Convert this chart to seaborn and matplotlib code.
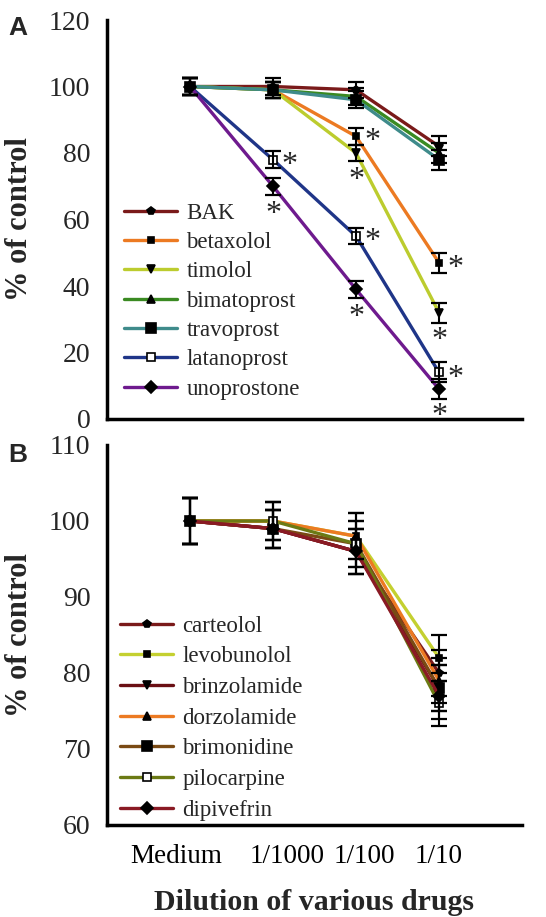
import matplotlib
matplotlib.use('Agg')
import matplotlib.pyplot as plt
import matplotlib.transforms as mtransforms
import seaborn as sns
import numpy as np
import pandas as pd

# dilution steps (x axis)
dilutions = ['Medium', '1/1000', '1/100', '1/10']

# Panel A: % of control
drugs_a = ['BAK', 'betaxolol', 'timolol', 'bimatoprost', 'travoprost', 'latanoprost', 'unoprostone']
bak = [100, 100, 99, 82]
betaxolol = [100, 99, 85, 47]
timolol = [100, 99, 80, 32]
bimatoprost = [100, 99, 97, 80]
travoprost = [100, 99, 96, 78]
latanoprost = [100, 78, 55, 14]
unoprostone = [100, 70, 39, 9]
err_a = [2.5, 2.5, 2.5, 3]
# asterisks: (drug, dilution index, side)
stars_a = [('latanoprost', 1, 'right'), ('unoprostone', 1, 'below'),
           ('betaxolol', 2, 'right'), ('timolol', 2, 'below'),
           ('latanoprost', 2, 'right'), ('unoprostone', 2, 'below'),
           ('betaxolol', 3, 'right'), ('timolol', 3, 'below'),
           ('latanoprost', 3, 'right'), ('unoprostone', 3, 'below')]

# Panel B: % of control
drugs_b = ['carteolol', 'levobunolol', 'brinzolamide', 'dorzolamide', 'brimonidine', 'pilocarpine', 'dipivefrin']
carteolol = [100, 99, 96, 80]
levobunolol = [100, 100, 98, 82]
brinzolamide = [100, 99, 96, 78]
dorzolamide = [100, 100, 98, 79]
brimonidine = [100, 99, 97, 78]
pilocarpine = [100, 100, 97, 76]
dipivefrin = [100, 99, 96, 77]
err_b = [3, 2.5, 3, 3]

vals_a = [bak, betaxolol, timolol, bimatoprost, travoprost, latanoprost, unoprostone]
vals_b = [carteolol, levobunolol, brinzolamide, dorzolamide, brimonidine, pilocarpine, dipivefrin]

colors_a = ['#7a1a1a', '#ec7a22', '#bccc2e', '#3a8a22', '#3f8b8b', '#1f3588', '#6e1a8e']
colors_b = ['#7a1a1a', '#c4d030', '#6a0f14', '#ec7a22', '#7a4a14', '#6b7a14', '#8a1a24']
markers = ['p', 's', 'v', '^', 's', 's', 'D']
msizes = [6, 5, 6, 6, 7, 6, 6]
faces = ['black', 'black', 'black', 'black', 'black', 'white', 'black']

sns.set_style('white')
plt.rcParams['font.family'] = ['Liberation Serif', 'DejaVu Serif']

fig = plt.figure(figsize=(5.46, 9.17), dpi=100)
ax_a = fig.add_axes([107/546, 1-419/917, 415/546, 399/917])
ax_b = fig.add_axes([107/546, 1-825/917, 415/546, 380/917])

xpos = np.arange(1, len(dilutions) + 1)


def draw_panel(ax, drugs, vals, colors, err):
    for i, (name, v) in enumerate(zip(drugs, vals)):
        df = pd.DataFrame({'x': xpos, 'y': v})
        sns.lineplot(data=df, x='x', y='y', ax=ax, color=colors[i], lw=2.4,
                     marker=markers[i], markersize=msizes[i], markerfacecolor=faces[i],
                     markeredgecolor='black', markeredgewidth=1.2, label=name, zorder=3)
        ax.errorbar(xpos, v, yerr=err, fmt='none', ecolor='black', elinewidth=1.5,
                    capsize=6, capthick=1.6, zorder=4)
    for side in ['top', 'right']:
        ax.spines[side].set_visible(False)
    for side in ['left', 'bottom']:
        ax.spines[side].set_linewidth(2.5)
        ax.spines[side].set_color('black')
    ax.set_xlim(0, 5)
    ax.set_xticks([1, 2, 3, 4, 5])
    ax.tick_params(axis='x', direction='inout', length=10, width=2, colors='black')
    ax.tick_params(axis='y', direction='out', length=8, width=2, labelsize=20, pad=4)
    ax.set_xlabel('')
    ax.set_ylabel('% of control', fontsize=22, fontweight='bold')
    ax.yaxis.set_label_coords(-0.175, 0.5)
    ax.grid(False)


draw_panel(ax_a, drugs_a, vals_a, colors_a, err_a)
ax_a.set_ylim(0, 120)
ax_a.set_yticks(range(0, 121, 20))
ax_a.set_xticklabels([])
ax_a.legend(loc='upper left', bbox_to_anchor=(0.02, 0.565), frameon=False, fontsize=16.5,
            handlelength=2.3, handletextpad=0.4, labelspacing=0.36, borderaxespad=0)

for name, k, side in stars_a:
    y = vals_a[drugs_a.index(name)][k]
    off = (12, -4) if side == 'right' else (0, -20)
    ax_a.annotate('*', (xpos[k], y), xytext=off, textcoords='offset points',
                  ha='center', va='center', fontsize=23)

draw_panel(ax_b, drugs_b, vals_b, colors_b, err_b)
ax_b.set_ylim(60, 110)
ax_b.set_yticks(range(60, 111, 10))
ax_b.set_xticklabels(dilutions + [''], fontsize=19.5)
ax_b.tick_params(axis='x', pad=9)
# nudge tick labels sideways as in the original layout
for lab, dx in zip(ax_b.get_xticklabels(), [-14, 14, 8, 0, 0]):
    lab.set_transform(lab.get_transform() + mtransforms.ScaledTranslation(dx/100, 0, fig.dpi_scale_trans))
ax_b.set_xlabel('Dilution of various drugs', fontsize=21.5, fontweight='bold', labelpad=14)
ax_b.legend(loc='upper left', bbox_to_anchor=(0.01, 0.575), frameon=False, fontsize=16.5,
            handlelength=2.3, handletextpad=0.4, labelspacing=0.42, borderaxespad=0)

fig.text(18/546, 1-28/917, 'A', fontsize=19, fontweight='bold', family='Liberation Sans', ha='center', va='center')
fig.text(18/546, 1-455/917, 'B', fontsize=19, fontweight='bold', family='Liberation Sans', ha='center', va='center')

fig.savefig('out.png', dpi=100)
